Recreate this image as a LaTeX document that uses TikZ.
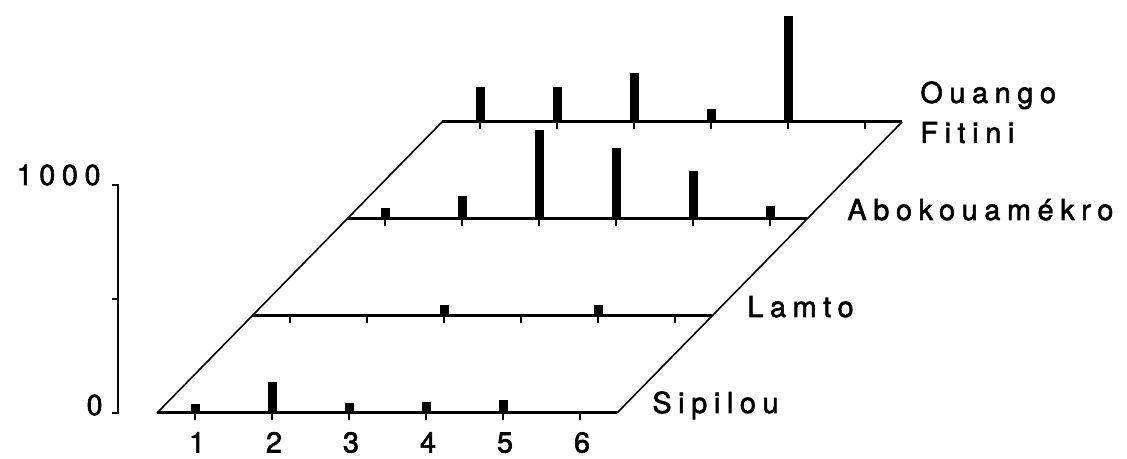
\documentclass[tikz,border=0pt]{standalone}
\usepackage{fontspec}
\usepackage{tikz}
\newfontfamily\lblfont{TeX Gyre Heros}[LetterSpace=23,FakeBold=2]

\begin{document}
\begin{tikzpicture}[x=5pt,y=5pt]
			\tikzset{row/.style={line width=1.5pt}}
			\tikzset{side/.style={line width=0.8pt}}
			\tikzset{tickmark/.style={line width=1.4pt}}
			\tikzset{colbar/.style={fill=black}}
			\tikzset{lbl/.style={font=\lblfont\fontsize{14.4}{20}\selectfont, inner sep=0pt}}
			\useasboundingbox (-15.7,-4.6) rectangle (97,41.3);
			%axis
			\draw[line width=1pt] (-4.5,0) -- (-3.9,0) -- (-3.9,22.8) -- (-4.5,22.8);
			\draw[line width=1pt] (-3.9,11.4) -- (-4.5,11.4);
			\node[lbl, anchor=base east] (ymax) at (-5.6,22.8) {1000};
			\node[lbl, anchor=base east] (ymin) at (-5.4,-0.2) {0};
			%corners
			\coordinate (s0) at (0,0);
			\coordinate (s1) at (46,0);
			\coordinate (l0) at (9.5,9.7);
			\coordinate (l1) at (55.5,9.7);
			\coordinate (a0) at (19,19.4);
			\coordinate (a1) at (65,19.4);
			\coordinate (o0) at (28.5,29.1);
			\coordinate (o1) at (74.5,29.1);
			%plane
			\draw[side] (s0) -- (o0);
			\draw[side] (s1) -- (o1);
			\draw[row] (s0) -- (s1);
			\draw[row] (l0) -- (l1);
			\draw[row] (a0) -- (a1);
			\draw[row] (o0) -- (o1);
			%ticks
			\foreach \dx/\dy in {0/0, 9.5/9.7, 19/19.4, 28.5/29.1}
				\foreach \i in {1,...,6}
					\draw[tickmark] ({\dx+3.8+7.7*(\i-1)},\dy) -- ++(0,-0.7);
			%bars
			\foreach \dx/\dy/\i/\v in {0/0/1/40, 0/0/2/135, 0/0/3/45, 0/0/4/50, 0/0/5/55,
					9.5/9.7/3/50, 9.5/9.7/5/50,
					19/19.4/1/50, 19/19.4/2/100, 19/19.4/3/390, 19/19.4/4/310, 19/19.4/5/210, 19/19.4/6/55,
					28.5/29.1/1/155, 28.5/29.1/2/155, 28.5/29.1/3/215, 28.5/29.1/4/55, 28.5/29.1/5/465}
				\fill[colbar] ({\dx+3.8+7.7*(\i-1)-0.45},\dy) rectangle ++(0.9,{0.0228*\v});
			%labels
			\foreach \i in {1,...,6}
				\node[lbl, anchor=base] (n\i) at ({3.8+7.7*(\i-1)+0.2},-3.95) {\i};
			\node[lbl, anchor=base west] (sip) at (49.5,0) {Sipilou};
			\node[lbl, anchor=base west] (lam) at (59,9.6) {Lamto};
			\node[lbl, anchor=base west] (abo) at (69,19.3) {Abokouamékro};
			\node[lbl, anchor=north west, align=left, text width=80pt] (oua) at (76.3,33.2) {Ouango\\Fitini};
		\end{tikzpicture}
\end{document}
